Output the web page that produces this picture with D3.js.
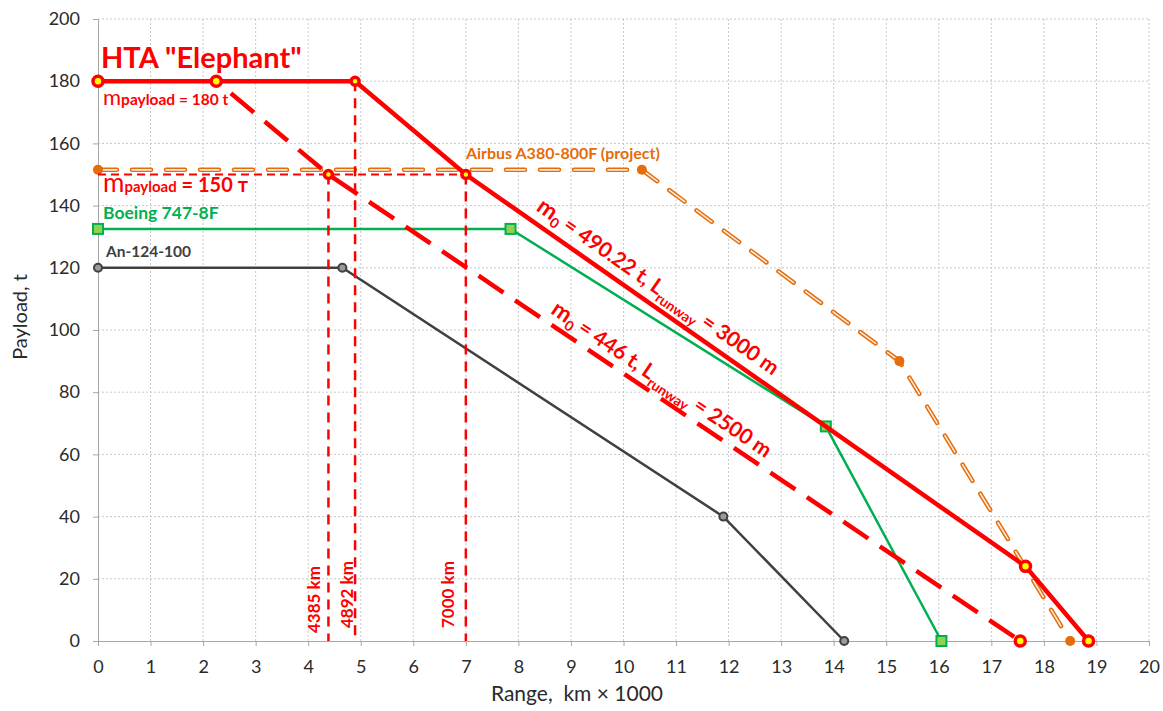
<!DOCTYPE html>
<html>
<head>
<meta charset="utf-8">
<script src="https://cdn.jsdelivr.net/npm/d3@7"></script>
<style>
  body { margin: 0; background: #fff; }
  text { font-family: Lato, "Open Sans", sans-serif; white-space: pre; }
</style>
</head>
<body>
<div id="chart"></div>
<script>
// HTA "Elephant" (m0 = 490.22 t, runway 3000 m)
var htaRange = [0, 2.25, 4.892, 7.0, 17.65, 18.85];
var htaPayload = [180, 180, 180, 150, 24, 0];
// HTA variant (m0 = 446 t, runway 2500 m)
var hta2Range = [2.25, 4.385, 17.55];
var hta2Payload = [180, 150, 0];
var airbusRange = [0, 10.35, 15.25, 18.5];
var airbusPayload = [151.5, 151.5, 90, 0];
var boeingRange = [0, 7.85, 13.85, 16.05];
var boeingPayload = [132.5, 132.5, 69, 0];
var anRange = [0, 4.65, 11.9, 14.2];
var anPayload = [120, 120, 40, 0];
// reference lines
var refRange = [4.385, 4.892, 7.0];
var refPayload = [150, 180, 150];
var refLabels = ["4385 km", "4892 km", "7000 km"];
var xTicks = d3.range(0, 21, 1);
var yTicks = d3.range(0, 201, 20);

function pts(xs, ys) { return xs.map(function(d, i) { return {x: d, y: ys[i]}; }); }

var margin = {top: 19, right: 14, bottom: 70, left: 98},
    width = 1163 - margin.left - margin.right,
    height = 711 - margin.top - margin.bottom;

var svg = d3.select("#chart")
  .append("svg")
    .attr("width", width + margin.left + margin.right)
    .attr("height", height + margin.top + margin.bottom)
  .append("g")
    .attr("transform", "translate(" + margin.left + "," + margin.top + ")");

var x = d3.scaleLinear().domain([0, 20]).range([0, width]);
var y = d3.scaleLinear().domain([0, 200]).range([height, 0]);

// grid
svg.append("g").selectAll("line").data(xTicks.slice(1)).enter().append("line")
  .attr("x1", function(d) { return x(d); }).attr("x2", function(d) { return x(d); })
  .attr("y1", 0).attr("y2", height)
  .attr("stroke", "#c8c8c8").attr("stroke-dasharray", "2,2");
svg.append("g").selectAll("line").data(yTicks.slice(1)).enter().append("line")
  .attr("x1", 0).attr("x2", width)
  .attr("y1", function(d) { return y(d); }).attr("y2", function(d) { return y(d); })
  .attr("stroke", "#c8c8c8").attr("stroke-dasharray", "2,2");

// axes
var xAxis = svg.append("g")
  .attr("transform", "translate(0," + height + ")")
  .call(d3.axisBottom(x).tickValues(xTicks).tickSize(5).tickPadding(14));
var yAxis = svg.append("g")
  .call(d3.axisLeft(y).tickValues(yTicks).tickSize(5).tickPadding(13));
[xAxis, yAxis].forEach(function(a) {
  a.select(".domain").attr("stroke", "#a6a6a6");
  a.selectAll(".tick line").attr("stroke", "#a6a6a6");
  a.selectAll(".tick text").attr("font-size", "18px").attr("fill", "#2a2a2a")
    .style("font-family", "Lato, sans-serif");
});

svg.append("text")
  .attr("x", 479).attr("y", height + 60)
  .attr("text-anchor", "middle").attr("font-size", "21px").attr("fill", "#2a2a2a")
  .text("Range,  km \u00d7 1000");
svg.append("text")
  .attr("transform", "rotate(-90)")
  .attr("x", -298).attr("y", -71)
  .attr("text-anchor", "middle").attr("font-size", "20px").attr("fill", "#2a2a2a")
  .text("Payload, t");

var line = d3.line().x(function(d) { return x(d.x); }).y(function(d) { return y(d.y); });

// An-124-100
svg.append("path").datum(pts(anRange, anPayload))
  .attr("fill", "none").attr("stroke", "#404040").attr("stroke-width", 2.5).attr("d", line);
svg.append("g").selectAll("circle").data(pts(anRange, anPayload)).enter().append("circle")
  .attr("cx", function(d) { return x(d.x); }).attr("cy", function(d) { return y(d.y); })
  .attr("r", 4).attr("fill", "#9a9a9a").attr("stroke", "#404040").attr("stroke-width", 2);

// Boeing 747-8F
svg.append("path").datum(pts(boeingRange, boeingPayload))
  .attr("fill", "none").attr("stroke", "#00b050").attr("stroke-width", 2.5).attr("d", line);
svg.append("g").selectAll("rect").data(pts(boeingRange, boeingPayload)).enter().append("rect")
  .attr("x", function(d) { return x(d.x) - 5; }).attr("y", function(d) { return y(d.y) - 5; })
  .attr("width", 10).attr("height", 10)
  .attr("fill", "#92d050").attr("stroke", "#00b050").attr("stroke-width", 2);

// Airbus A380-800F (double dashed line)
svg.append("path").datum(pts(airbusRange, airbusPayload))
  .attr("fill", "none").attr("stroke", "#e46c0a").attr("stroke-width", 4.5)
  .attr("stroke-linecap", "round").attr("stroke-dasharray", "19,15").attr("d", line);
svg.append("path").datum(pts(airbusRange, airbusPayload))
  .attr("fill", "none").attr("stroke", "#fde9d9").attr("stroke-width", 1.6)
  .attr("stroke-linecap", "round").attr("stroke-dasharray", "19,15").attr("d", line);
svg.append("g").selectAll("circle").data(pts(airbusRange, airbusPayload)).enter().append("circle")
  .attr("cx", function(d) { return x(d.x); }).attr("cy", function(d) { return y(d.y); })
  .attr("r", 5).attr("fill", "#e46c0a");

// reference dashed lines
svg.append("g").selectAll("line").data(pts(refRange, refPayload)).enter().append("line")
  .attr("x1", function(d) { return x(d.x); }).attr("x2", function(d) { return x(d.x); })
  .attr("y1", function(d) { return y(d.y); }).attr("y2", y(0))
  .attr("stroke", "#ff0000").attr("stroke-width", 2.5).attr("stroke-dasharray", "10,7");
svg.append("line")
  .attr("x1", x(0)).attr("x2", x(refRange[2]))
  .attr("y1", y(refPayload[0])).attr("y2", y(refPayload[0]))
  .attr("stroke", "#ff0000").attr("stroke-width", 2).attr("stroke-dasharray", "8,5");

svg.append("g").selectAll("text").data(refRange).enter().append("text")
  .attr("transform", function(d, i) {
    return "translate(" + (x(d) - [8, 2, 12][i]) + "," + (y(0) - [8, 13, 13][i]) + ") rotate(-90)";
  })
  .attr("font-size", "17px").attr("font-weight", "bold").attr("fill", "#ff0000")
  .text(function(d, i) { return refLabels[i]; });

// HTA 446 t dashed
svg.append("path").datum(pts(hta2Range, hta2Payload))
  .attr("fill", "none").attr("stroke", "#ff0000").attr("stroke-width", 4.5)
  .attr("stroke-dasharray", "30,14").attr("stroke-dashoffset", 25).attr("d", line);

// HTA 490.22 t solid
svg.append("path").datum(pts(htaRange, htaPayload))
  .attr("fill", "none").attr("stroke", "#ff0000").attr("stroke-width", 4.5).attr("d", line);

var htaMarks = pts(htaRange, htaPayload).concat(pts(hta2Range.slice(1), hta2Payload.slice(1)));
svg.append("g").selectAll("circle").data(htaMarks).enter().append("circle")
  .attr("cx", function(d) { return x(d.x); }).attr("cy", function(d) { return y(d.y); })
  .attr("r", function(d) { return (d.x == 4.892 || d.x == 7.0 || d.x == 4.385) ? 4 : 5; })
  .attr("fill", "#ffff00").attr("stroke", "#ff0000").attr("stroke-width", 3.5);

// labels
svg.append("text")
  .attr("x", x(0) + 3).attr("y", y(180) - 13)
  .attr("font-size", "29px").attr("font-weight", "bold").attr("fill", "#ff0000")
  .text("HTA \"Elephant\"");

var m180 = svg.append("text")
  .attr("x", x(0) + 5).attr("y", y(180) + 24)
  .attr("font-weight", "bold").attr("fill", "#ff0000");
m180.append("tspan").attr("font-size", "22px").attr("font-weight", "normal").text("m");
m180.append("tspan").attr("font-size", "15.5px").text("payload = 180 t");

var m150 = svg.append("text")
  .attr("x", x(0) + 5).attr("y", y(150) + 17)
  .attr("font-weight", "bold").attr("fill", "#ff0000");
m150.append("tspan").attr("font-size", "26px").attr("font-weight", "normal").text("m");
m150.append("tspan").attr("font-size", "15px").text("payload");
m150.append("tspan").attr("font-size", "20px").text(" = 150 \u0442");

svg.append("text")
  .attr("x", x(airbusRange[1]) - 176).attr("y", y(airbusPayload[1]) - 11)
  .attr("font-size", "16px").attr("font-weight", "bold").attr("fill", "#e46c0a")
  .text("Airbus A380-800F (project)");
svg.append("text")
  .attr("x", x(0) + 5).attr("y", y(boeingPayload[0]) - 10)
  .attr("font-size", "17.5px").attr("font-weight", "bold").attr("fill", "#00b050")
  .text("Boeing 747-8F");
svg.append("text")
  .attr("x", x(0) + 8).attr("y", y(anPayload[0]) - 11)
  .attr("font-size", "15.5px").attr("font-weight", "bold").attr("fill", "#404040")
  .text("An-124-100");

// rotated labels along the lines
function slopeLabel(p0, p1, at, off, parts) {
  var ang = Math.atan2(y(p1.y) - y(p0.y), x(p1.x) - x(p0.x)) * 180 / Math.PI;
  var t = (at - p0.x) / (p1.x - p0.x);
  var py = p0.y + t * (p1.y - p0.y);
  var txt = svg.append("text")
    .attr("transform", "translate(" + x(at) + "," + y(py) + ") rotate(" + ang + ")")
    .attr("y", -off)
    .attr("font-weight", "bold").attr("fill", "#ff0000");
  parts.forEach(function(p) {
    txt.append("tspan").attr("font-size", p[1]).attr("dy", p[2]).text(p[0]);
  });
}
slopeLabel({x: htaRange[3], y: htaPayload[3]}, {x: htaRange[4], y: htaPayload[4]}, 8.2, 11, [
  ["m", "23px", 0], ["0", "14px", 5], [" = 490.22 t, L", "21px", -5],
  ["runway", "14px", 6], [" = 3000 m", "21px", -6]
]);
slopeLabel({x: hta2Range[1], y: hta2Payload[1]}, {x: hta2Range[2], y: hta2Payload[2]}, 8.5, 9, [
  ["m", "23px", 0], ["0", "14px", 5], [" = 446 t, L", "21px", -5],
  ["runway", "14px", 6], [" = 2500 m", "21px", -6]
]);
</script>
</body>
</html>
